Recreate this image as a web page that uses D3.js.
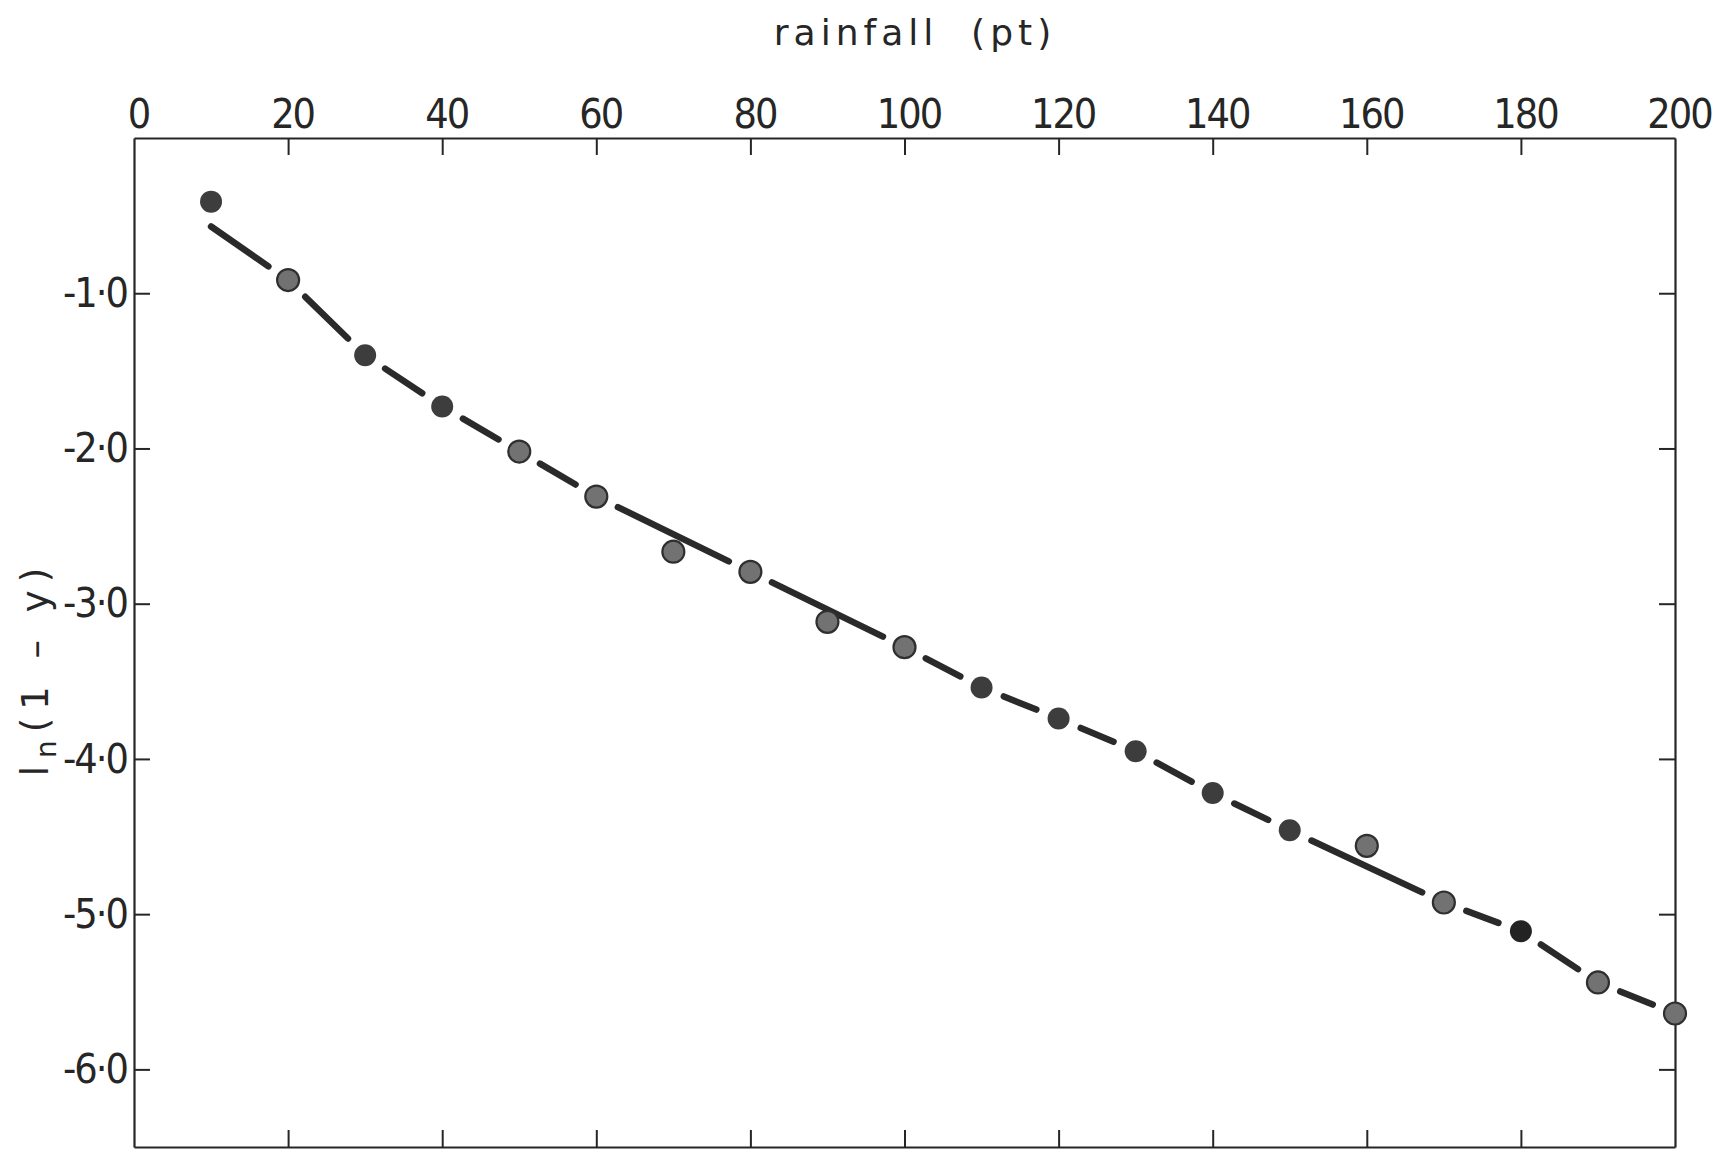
<!DOCTYPE html>
<html><head><meta charset="utf-8">
<script src="https://cdn.jsdelivr.net/npm/d3@7"></script>
<style>html,body{margin:0;padding:0;background:#fff;} svg{display:block}</style>
</head><body><svg id="chart" width="1719" height="1150"></svg>
<script>
// ---- data ----
const rainfall = [10,20,30,40,50,60,70,80,90,100,110,120,130,140,150,160,170,180,190,200];
const lnOneMinusY = [-0.41,-0.915,-1.40,-1.73,-2.02,-2.31,-2.665,-2.795,-3.117,-3.28,-3.54,-3.74,-3.95,-4.22,-4.46,-4.56,-4.925,-5.11,-5.44,-5.64];
const pointShade = ["dark","grey","dark","dark","grey","grey","grey","grey","grey","grey","dark","dark","dark","dark","dark","grey","grey","black","grey","grey"];
const fitX = [10,20,30,40,50,60,80,100,110,120,130,140,150,170,180,190,200];
const fitY = [-0.57,-0.915,-1.40,-1.73,-2.02,-2.31,-2.795,-3.28,-3.54,-3.74,-3.95,-4.22,-4.46,-4.925,-5.11,-5.44,-5.64];
const xTicks = [0,20,40,60,80,100,120,140,160,180,200];
const yTicks = [-1,-2,-3,-4,-5,-6];
const yTickLabels = ["-1·0","-2·0","-3·0","-4·0","-5·0","-6·0"];
const xTitle = "rainfall  (pt)";

// ---- chart ----
const svg = d3.select("#chart");
const x = d3.scaleLinear().domain([0,200]).range([134,1675]);
const y = d3.scaleLinear().domain([0,-6.5]).range([138,1147]);
const ink = "#262626";
const numFont = "'Liberation Sans Narrow','DejaVu Sans Condensed',sans-serif";

function styleAxis(g){
  g.select(".domain").attr("stroke", ink).attr("stroke-width", 2.2);
  g.selectAll(".tick line").attr("stroke", ink).attr("stroke-width", 2);
  g.selectAll(".tick text").attr("fill", ink).style("font-family", numFont)
    .style("font-size","41px").style("letter-spacing","-2px");
}

const gTop = svg.append("g").attr("transform","translate(0,138)")
  .call(d3.axisTop(x).tickValues(xTicks).tickSizeInner(-17).tickSizeOuter(0).tickPadding(10).tickFormat(d3.format("d")));
styleAxis(gTop);
gTop.selectAll(".tick text").attr("dx", 4);
gTop.selectAll(".tick line").filter(d => d===0 || d===200).remove();

const gBottom = svg.append("g").attr("transform","translate(0,1147)")
  .call(d3.axisBottom(x).tickValues(xTicks.filter(d=>d>0 && d<200)).tickSizeInner(-17).tickSizeOuter(0).tickFormat(""));
styleAxis(gBottom);

const gLeft = svg.append("g").attr("transform","translate(134,0)")
  .call(d3.axisLeft(y).tickValues(yTicks).tickSizeInner(-16).tickSizeOuter(0).tickPadding(7)
    .tickFormat((d,i)=>yTickLabels[i]));
styleAxis(gLeft);

const gRight = svg.append("g").attr("transform","translate(1675,0)")
  .call(d3.axisRight(y).tickValues(yTicks).tickSizeInner(-16).tickSizeOuter(0).tickFormat(""));
styleAxis(gRight);

// titles
svg.append("text").attr("x", 915).attr("y", 45).attr("text-anchor","middle")
  .attr("fill", ink).style("font-family","'DejaVu Sans',sans-serif").style("font-size","36px")
  .style("letter-spacing","5px").style("white-space","pre").text(xTitle);

const yt = svg.append("text").attr("transform","translate(48,668) rotate(-90)").attr("text-anchor","middle")
  .attr("fill", ink).style("font-family","'DejaVu Sans',sans-serif").style("font-size","37px")
  .style("letter-spacing","8px").style("white-space","pre");
yt.append("tspan").text("l");
yt.append("tspan").attr("dy", 8).style("font-size","28px").text("n");
yt.append("tspan").attr("dy", -8).text("(1 – y)");

// fitted line, broken around the markers that sit on it
const fitPts = fitX.map((v,i)=>[x(v), y(fitY[i])]);
const onMarker = fitX.map((v,i)=>{
  const k = rainfall.indexOf(v);
  return k >= 0 && Math.abs(y(lnOneMinusY[k]) - y(fitY[i])) < 10;
});
const gap = 24;
const segs = [];
for (let i=0;i<fitPts.length-1;i++){
  const p0 = fitPts[i], p1 = fitPts[i+1];
  const dx = p1[0]-p0[0], dy = p1[1]-p0[1], L = Math.hypot(dx,dy);
  const ux = dx/L, uy = dy/L;
  const t0 = onMarker[i] ? gap : 0, t1 = onMarker[i+1] ? gap : 0;
  segs.push([[p0[0]+ux*t0, p0[1]+uy*t0],[p1[0]-ux*t1, p1[1]-uy*t1]]);
}
const line = d3.line();
svg.append("g").selectAll("path").data(segs).join("path")
  .attr("d", d=>line(d)).attr("fill","none").attr("stroke","#2a2a2a")
  .attr("stroke-width", 6.5).attr("stroke-linecap","round");

// points
const shadeFill = {dark:"#3d3d3d", grey:"#727272", black:"#232323"};
const shadeStroke = {dark:"none", grey:"#2f2f2f", black:"none"};
svg.append("g").selectAll("circle").data(rainfall).join("circle")
  .attr("cx", d=>x(d)).attr("cy", (d,i)=>y(lnOneMinusY[i])).attr("r", 11)
  .attr("fill", (d,i)=>shadeFill[pointShade[i]])
  .attr("stroke", (d,i)=>shadeStroke[pointShade[i]]).attr("stroke-width", 2.2);
</script></body></html>
